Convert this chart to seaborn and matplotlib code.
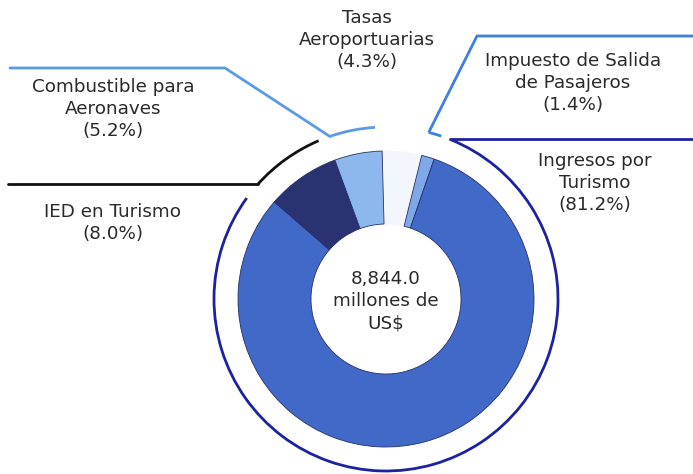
import seaborn as sns
import matplotlib.pyplot as plt
from matplotlib.patches import Arc
import numpy as np

sns.set_theme(style="white")
plt.rcParams['font.family'] = ['DejaVu Sans']

# data, clockwise from top
labels = ["Tasas\nAeroportuarias", "Impuesto de Salida\nde Pasajeros", "Ingresos por\nTurismo",
          "IED en Turismo", "Combustible para\nAeronaves"]
shares = [4.3, 1.4, 81.2, 8.0, 5.2]
colors = ["#f3f7fd", "#7ea8e8", "#4169c8", "#2b3272", "#8db8ee"]
arc_colors = ["white", "#3f7fe0", "#1c22a0", "#111111", "#5b9be6"]
total = "8,844.0\nmillones de\nUS$"

W, H = 693, 474
fig = plt.figure(figsize=(W / 100, H / 100), dpi=100)
ax = fig.add_axes([0, 0, 1, 1])

cx, cy = 386, H - 299
R = 148
wedges, _ = ax.pie(shares, colors=colors, startangle=91.5, counterclock=False, center=(cx, cy),
                   radius=R, wedgeprops=dict(width=73, edgecolor="#27306e", linewidth=0.6), frame=True)
wedges[0].set_edgecolor(colors[0])
ax.set_xlim(0, W)
ax.set_ylim(0, H)
ax.set_aspect("equal")
ax.axis("off")

# outer arcs following each slice (angles clockwise from top)
cum = np.concatenate([[0], np.cumsum(shares)]) * 3.6 - 1.5
inset = [(0, 0), (0.4, 0.3), (2.9, 5.4), (0.6, 3.2), (0.8, 2.5)]
Ra = 172
ends = []
for i in range(len(shares)):
    a0 = cum[i] + inset[i][0]
    a1 = cum[i + 1] - inset[i][1]
    ends.append((a0, a1))
    if i == 0:
        continue
    ax.add_patch(Arc((cx, cy), 2 * Ra, 2 * Ra, theta1=90 - a1, theta2=90 - a0,
                     color=arc_colors[i], lw=2))


def pt(a, r=Ra):
    t = np.deg2rad(90 - a)
    return cx + r * np.cos(t), cy + r * np.sin(t)


# leader lines
x0, y0 = pt(ends[1][0])
ax.plot([x0, 477, W], [y0, H - 36, H - 36], color=arc_colors[1], lw=2, solid_capstyle="butt")
x0, y0 = pt(ends[2][0])
ax.plot([x0, W], [y0, y0], color=arc_colors[2], lw=2)
x0, y0 = pt(ends[3][0])
ax.plot([x0, 8], [y0, y0], color=arc_colors[3], lw=2)
x0, y0 = pt(ends[4][0])
ax.plot([x0, 225, 10], [y0, H - 68, H - 68], color=arc_colors[4], lw=2)

# labels
fs = 13.2
txt = dict(ha="center", va="center", fontsize=fs, color="#2a2a2a", linespacing=1.3)
ax.text(367, H - 40, labels[0] + "\n(%.1f%%)" % shares[0], **txt)
ax.text(573, H - 83, labels[1] + "\n(%.1f%%)" % shares[1], **txt)
ax.text(595, H - 183, labels[2] + "\n(%.1f%%)" % shares[2], **txt)
ax.text(113, H - 223, labels[3] + "\n(%.1f%%)" % shares[3], **txt)
ax.text(113, H - 109, labels[4] + "\n(%.1f%%)" % shares[4], **txt)
ax.text(cx, H - 301, total, **txt)

fig.savefig("out.png", dpi=100)
